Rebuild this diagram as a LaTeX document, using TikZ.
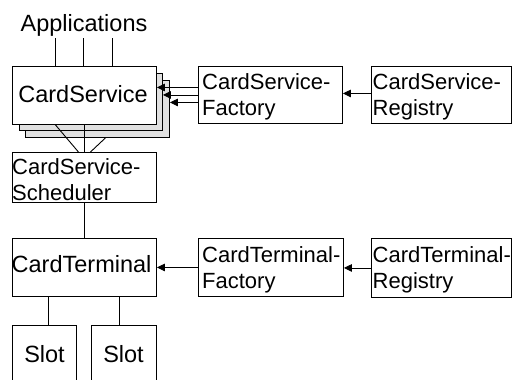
\documentclass[tikz,border=0pt]{standalone}
\usepackage{fontspec}
\setmainfont{Liberation Sans}
\usetikzlibrary{arrows.meta}
\definecolor{stackgray}{RGB}{224,224,224}
\tikzset{
  box/.style={draw=black, line width=0.9pt, fill=white, inner sep=0pt,
              anchor=north west},
  stackbox/.style={box, fill=stackgray},
  biglabel/.style={inner sep=0pt, font=\fontsize{23.5pt}{28pt}\selectfont},
  % anchored at the baseline of the second line
  twoline/.style={inner sep=0pt, align=left, anchor=base west,
                  font=\fontsize{22pt}{25.5pt}\selectfont},
  wire/.style={draw=black, line width=0.9pt},
  feed/.style={wire, -{Triangle[length=8pt,width=7.5pt]}}
}
\begin{document}
\begin{tikzpicture}[x=1pt,y=-1pt]
\useasboundingbox (0,0) rectangle (512,380);

% stacked CardService instances, back to front
\node[stackbox, minimum width=144pt, minimum height=57pt] (cs3) at (25,80) {};
\node[stackbox, minimum width=143pt, minimum height=57pt] (cs2) at (19,73) {};
\node[box, minimum width=144pt, minimum height=58pt] (cs) at (12,66) {};
\node[biglabel, anchor=base] (cs-t) at (83,102) {CardService};

% applications on top
\node[biglabel, anchor=base] (apps) at (84,31) {Applications};
\coordinate (app1) at (55,38);
\coordinate (app2) at (83,38);
\coordinate (app3) at (112,38);
\draw[wire] (app1) -- (app1 |- cs.north);
\draw[wire] (app2) -- (app2 |- cs.north);
\draw[wire] (app3) -- (app3 |- cs.north);

% scheduler
\node[box, minimum width=144pt, minimum height=50pt] (sched) at (12,152) {};
\node[twoline] (sched-t) at (12,200) {CardService-\\Scheduler};

\draw[wire] ([xshift=-29pt]cs.south) -- ([xshift=-6pt]sched.north);
\draw[wire] (cs.south) -- (sched.north);
\draw[wire] ([xshift=8pt]cs3.south) -- ([xshift=6pt]sched.north);

% terminal
\node[box, minimum width=144pt, minimum height=58pt] (term) at (12,238) {};
\node[biglabel, anchor=base west] (term-t) at (11.5,272) {CardTerminal};
\draw[wire] (sched.south) -- (term.north);

% slots
\node[box, minimum width=64pt, minimum height=62pt] (slot1) at (12,325) {};
\node[box, minimum width=65pt, minimum height=62pt] (slot2) at (91,325) {};
\node[biglabel, anchor=base] (slot1-t) at (44.5,362) {Slot};
\node[biglabel, anchor=base] (slot2-t) at (123.5,362) {Slot};
\draw[wire] ([xshift=-36pt]term.south) -- ([xshift=-36pt]term.south |- slot1.north);
\draw[wire] ([xshift=35pt]term.south) -- ([xshift=35pt]term.south |- slot2.north);

% factories and registries
\node[box, minimum width=144pt, minimum height=57pt] (csf) at (198,66) {};
\node[twoline] (csf-t) at (202,115) {CardService-\\Factory};
\node[box, minimum width=140pt, minimum height=57pt] (csr) at (371,66) {};
\node[twoline] (csr-t) at (372.5,115) {CardService-\\Registry};

\node[box, minimum width=145pt, minimum height=58pt] (ctf) at (198,238) {};
\node[twoline] (ctf-t) at (202,288) {CardTerminal-\\Factory};
\node[box, minimum width=140pt, minimum height=59pt] (ctr) at (371,238) {};
\node[twoline] (ctr-t) at (372.5,288) {CardTerminal-\\Registry};

% creation arrows
\draw[feed] ([yshift=7.5pt]csf.west) -- ([yshift=7.5pt]csf.west -| cs.east);
\draw[feed] (csf.west) -- (csf.west -| cs2.east);
\draw[feed] ([yshift=-7.5pt]csf.west) -- ([yshift=-7.5pt]csf.west -| cs3.east);
\draw[feed] ([yshift=1.5pt]csr.west) -- ([yshift=1.5pt]csr.west -| csf.east);

\draw[feed] (ctf.west) -- (ctf.west -| term.east);
\draw[feed] (ctr.west) -- (ctr.west -| ctf.east);
\end{tikzpicture}
\end{document}
